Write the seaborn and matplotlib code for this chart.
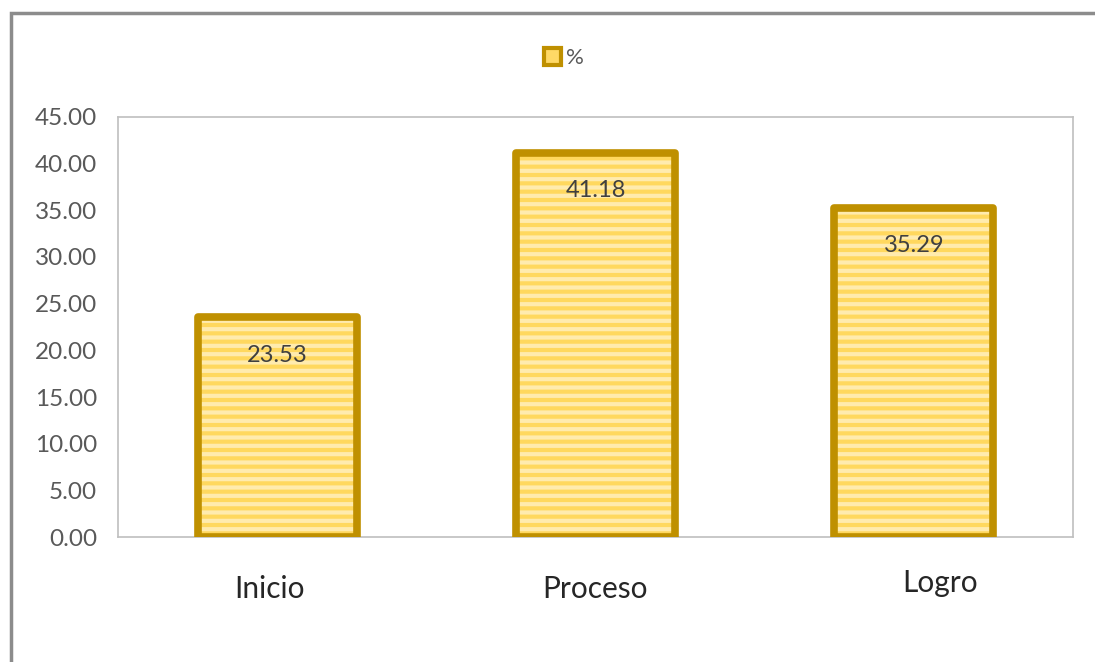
import matplotlib
matplotlib.use("Agg")
import matplotlib.pyplot as plt
import matplotlib.transforms as mtrans
import seaborn as sns
import pandas as pd
from matplotlib.patches import Rectangle, Patch

categories = ["Inicio", "Proceso", "Logro"]
percent = [23.53, 41.18, 35.29]
y_ticks = [0, 5, 10, 15, 20, 25, 30, 35, 40, 45]
series_name = "%"

df = pd.DataFrame({"nivel": categories, "pct": percent})

sns.set_style("white")
plt.rcParams["font.family"] = ["Lato", "DejaVu Sans"]
plt.rcParams["hatch.linewidth"] = 3.0

fig = plt.figure(figsize=(10.95, 6.62), dpi=100)
ax = fig.add_axes([0.1078, 0.1888, 0.872, 0.6345])

gold = "#BF9000"
sns.barplot(data=df, x="nivel", y="pct", ax=ax, color="#FFD85E",
            width=0.5, saturation=1, edgecolor="#FFEBAE", linewidth=0)

for p in list(ax.patches):
    p.set_hatch("--")
    # outline on top of the stripes
    ax.add_patch(Rectangle(p.get_xy(), p.get_width(), p.get_height(),
                           facecolor="none", edgecolor=gold, linewidth=5.5,
                           joinstyle="round", zorder=3))

for i, v in enumerate(percent):
    ax.text(i, v - 4.1, f"{v:.2f}", ha="center", va="center",
            fontsize=17, color="#404040", zorder=4)

ax.set_ylim(0, 45)
ax.set_yticks(y_ticks)
ax.set_yticklabels([f"{t:.2f}" for t in y_ticks], fontsize=17.5, color="#595959")
ax.tick_params(axis="x", labelsize=21.5, labelcolor="#262626", pad=27, length=0)
ax.tick_params(axis="y", length=0, pad=15)
ax.set_xlabel("")
ax.set_ylabel("")
for s in ax.spines.values():
    s.set_color("#BFBFBF")
    s.set_linewidth(1.2)

# category labels were nudged by hand in the original
nudges = [(-8, 0), (0, 0), (26, 6)]
for lab, (dx, dy) in zip(ax.get_xticklabels(), nudges):
    lab.set_transform(lab.get_transform() +
                      mtrans.ScaledTranslation(dx / 100, dy / 100, fig.dpi_scale_trans))

handle = Patch(facecolor="#FFD966", edgecolor=gold, linewidth=3)
fig.legend([handle], [series_name], loc="center", bbox_to_anchor=(0.515, 0.912),
           frameon=False, fontsize=16, handlelength=0.75, handleheight=0.75,
           handletextpad=0.25, labelcolor="#595959")

# outer chart border (cropped on right and bottom)
fig.patches.append(Rectangle((11 / 1095, -0.2), 1.2, 1.2 - 13 / 662,
                             transform=fig.transFigure, facecolor="none",
                             edgecolor="#8C8C8C", linewidth=2.5))

fig.savefig("out.png", dpi=100)
